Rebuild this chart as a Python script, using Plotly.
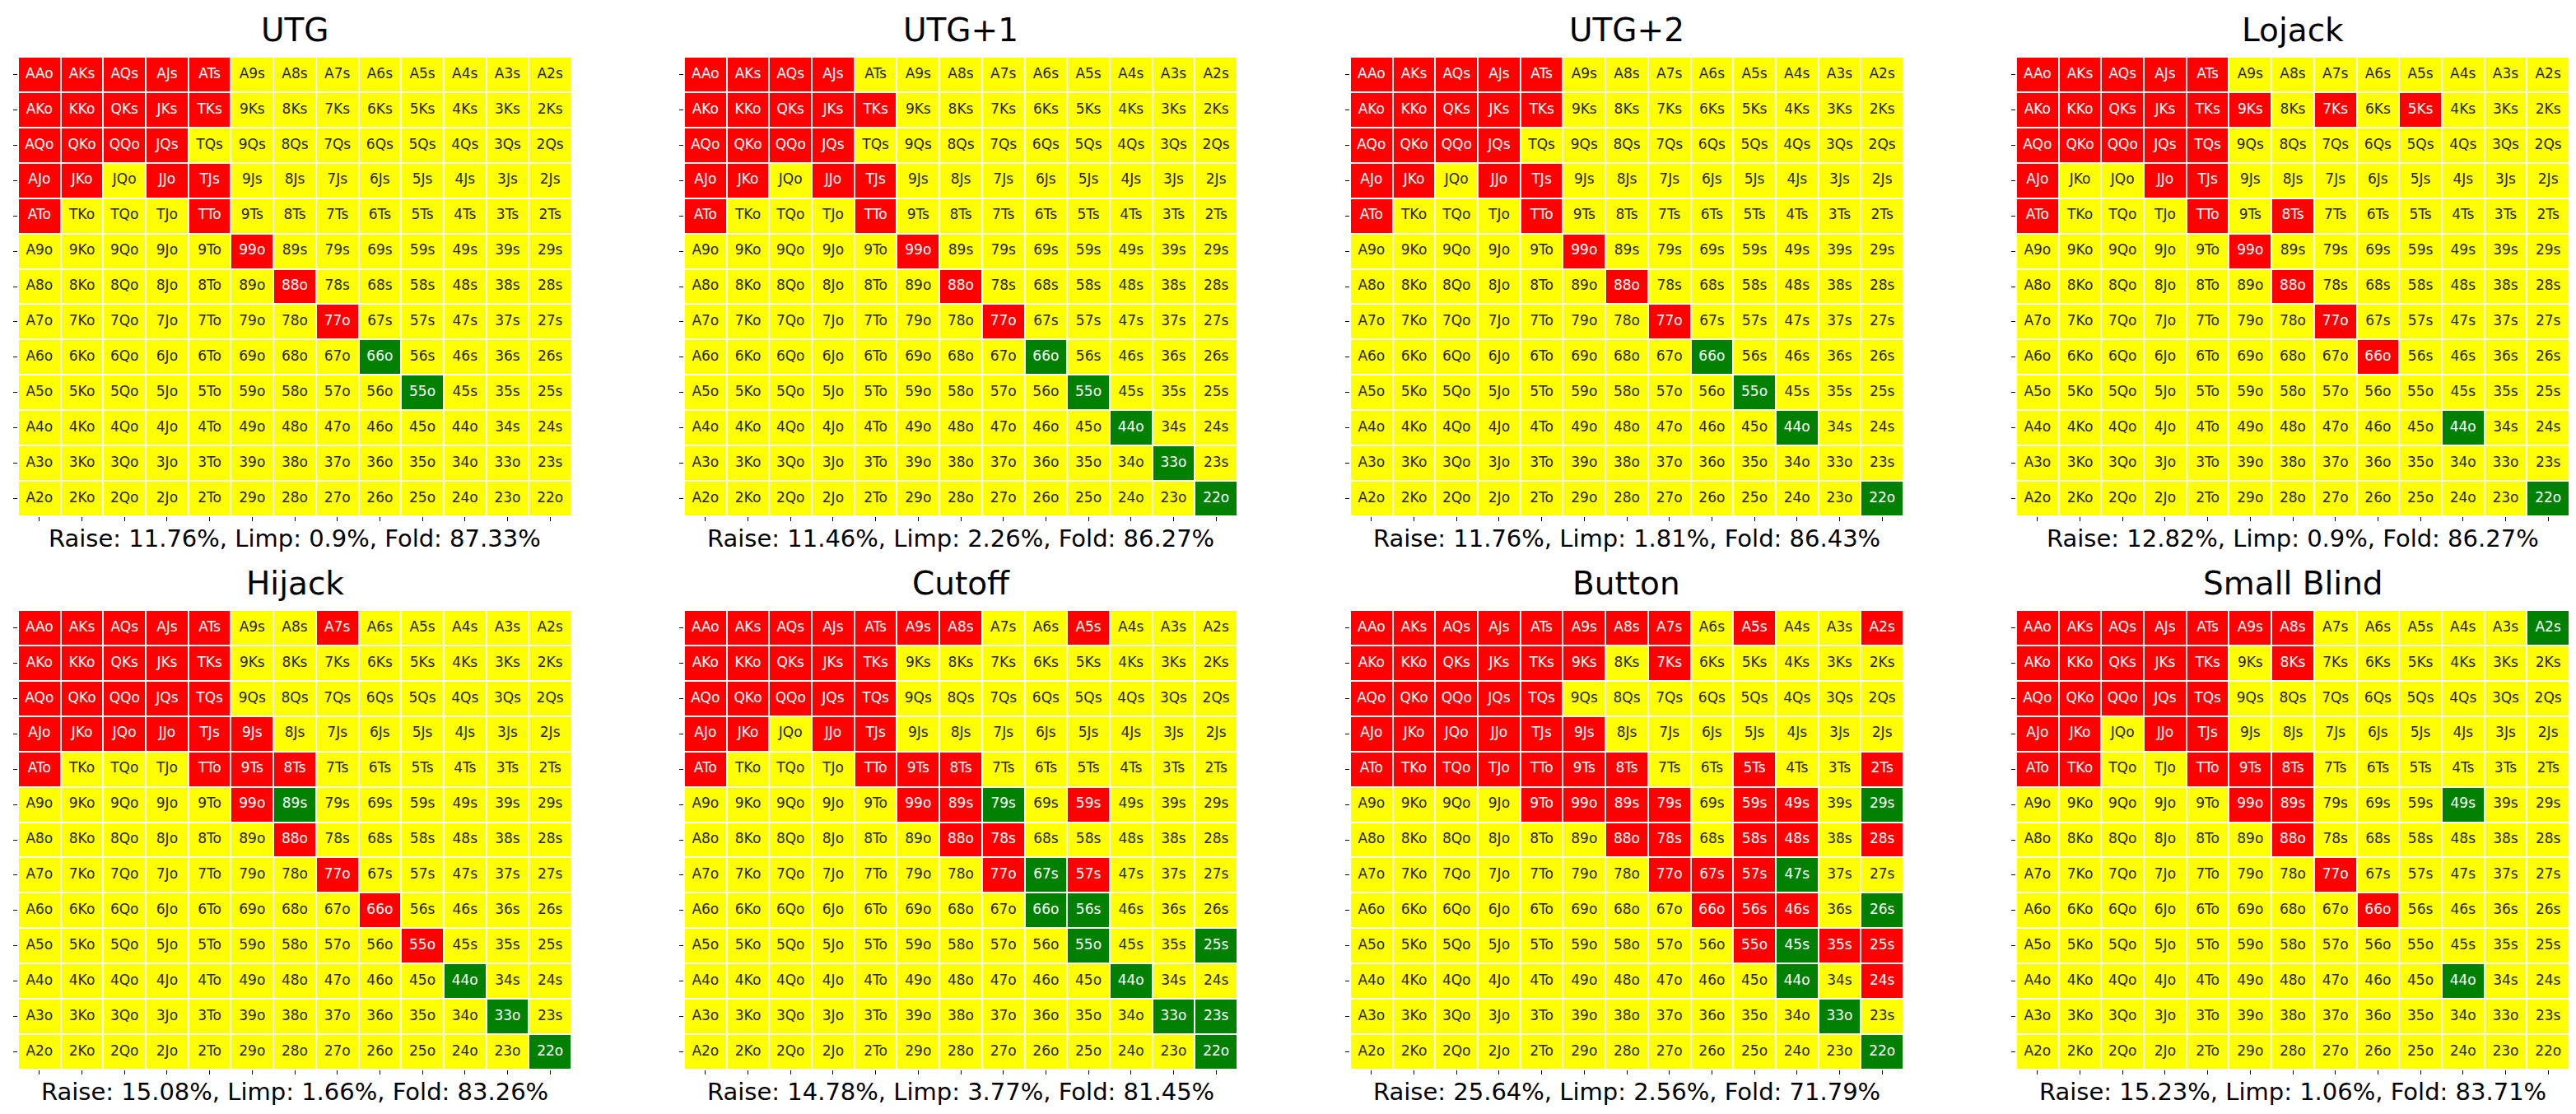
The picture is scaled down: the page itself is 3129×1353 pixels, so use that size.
import plotly.graph_objects as go

# preflop opening ranges, one 13x13 grid per seat
# R = raise, L = limp, . = fold  (rows/cols in rank order A..2)
ranks = ["A", "K", "Q", "J", "T", "9", "8", "7", "6", "5", "4", "3", "2"]
positions = ["UTG", "UTG+1", "UTG+2", "Lojack", "Hijack", "Cutoff", "Button", "Small Blind"]

utg = [
    "RRRRR........",
    "RRRRR........",
    "RRRR.........",
    "RR.RR........",
    "R...R........",
    ".....R.......",
    "......R......",
    ".......R.....",
    "........L....",
    ".........L...",
    ".............",
    ".............",
    ".............",
]
utg1 = [
    "RRRR.........",
    "RRRRR........",
    "RRRR.........",
    "RR.RR........",
    "R...R........",
    ".....R.......",
    "......R......",
    ".......R.....",
    "........L....",
    ".........L...",
    "..........L..",
    "...........L.",
    "............L",
]
utg2 = [
    "RRRRR........",
    "RRRRR........",
    "RRRR.........",
    "RR.RR........",
    "R...R........",
    ".....R.......",
    "......R......",
    ".......R.....",
    "........L....",
    ".........L...",
    "..........L..",
    ".............",
    "............L",
]
lojack = [
    "RRRRR........",
    "RRRRRR.R.R...",
    "RRRRR........",
    "R..RR........",
    "R...R.R......",
    ".....R.......",
    "......R......",
    ".......R.....",
    "........R....",
    ".............",
    "..........L..",
    ".............",
    "............L",
]
hijack = [
    "RRRRR..R.....",
    "RRRRR........",
    "RRRRR........",
    "RRRRRR.......",
    "R...RRR......",
    ".....RL......",
    "......R......",
    ".......R.....",
    "........R....",
    ".........R...",
    "..........L..",
    "...........L.",
    "............L",
]
cutoff = [
    "RRRRRRR..R...",
    "RRRRR........",
    "RRRRR........",
    "RR.RR........",
    "R...RRR......",
    ".....RRL.R...",
    "......RR.....",
    ".......RLR...",
    "........LL...",
    ".........L..L",
    "..........L..",
    "...........LL",
    "............L",
]
button = [
    "RRRRRRRR.R..R",
    "RRRRRR.R.....",
    "RRRRR........",
    "RRRRRR.......",
    "RRRRRRR..R..R",
    "....RRRR.RR.L",
    "......RR.RR.R",
    ".......RRRL..",
    "........RRR.L",
    ".........RLRR",
    "..........L.R",
    "...........L.",
    "............L",
]
small_blind = [
    "RRRRRRR.....L",
    "RRRRR.R......",
    "RRRRR........",
    "RR.RR........",
    "RR..RRR......",
    ".....RR...L..",
    "......R......",
    ".......R.....",
    "........R....",
    ".............",
    "..........L..",
    ".............",
    ".............",
]
grids = [utg, utg1, utg2, lojack, hijack, cutoff, button, small_blind]

W, H = 3129, 1353
col_left = [14, 823, 1632, 2441]
row_top = [61, 733]
panel_w, panel_h = 672, 558

codes = {".": 0, "R": 1, "L": 2}
scale = [[0, "#ffff00"], [1 / 3, "#ffff00"], [1 / 3, "#ff0000"],
         [2 / 3, "#ff0000"], [2 / 3, "#008000"], [1, "#008000"]]
font = "DejaVu Sans"


def hand_label(i, j):
    if i == j:
        return ranks[i] + ranks[i] + "o"
    hi, lo = ranks[min(i, j)], ranks[max(i, j)]
    suit = "s" if i < j else "o"
    if hi == "A":
        return "A" + lo + suit
    return lo + hi + suit


def summary(grid):
    counts = {".": 0, "R": 0, "L": 0}
    for i, row in enumerate(grid):
        for j, ch in enumerate(row):
            n = 6 if i == j else (4 if i < j else 12)
            counts[ch] += n
    pct = lambda n: round(n / 1326 * 100, 2)
    return f"Raise: {pct(counts['R'])}%, Limp: {pct(counts['L'])}%, Fold: {pct(counts['.'])}%"


fig = go.Figure()
annotations = []

for k, (name, grid) in enumerate(zip(positions, grids)):
    r, c = divmod(k, 4)
    ax = "" if k == 0 else str(k + 1)
    z = [[codes[ch] for ch in row] for row in grid]

    xs, ys, labels, colors = [], [], [], []
    for i in range(13):
        for j in range(13):
            xs.append(j)
            ys.append(i)
            labels.append(hand_label(i, j))
            colors.append("#262626" if z[i][j] == 0 else "white")

    fig.add_trace(go.Heatmap(
        z=z, x=list(range(13)), y=list(range(13)),
        colorscale=scale, zmin=0, zmax=2, showscale=False,
        xgap=2, ygap=2, hoverinfo="skip",
        xaxis="x" + ax, yaxis="y" + ax))
    fig.add_trace(go.Scatter(
        x=xs, y=ys, mode="text", text=labels,
        textfont=dict(color=colors, size=17, family=font),
        hoverinfo="skip", showlegend=False,
        xaxis="x" + ax, yaxis="y" + ax))

    x0 = col_left[c] / W
    x1 = (col_left[c] + panel_w) / W
    y1 = 1 - row_top[r] / H
    y0 = 1 - (row_top[r] + panel_h) / H
    common = dict(tickvals=list(range(13)), ticks="outside", ticklen=5, tickwidth=1,
                  tickcolor="black", showticklabels=False, showgrid=False,
                  zeroline=False, showline=False)
    fig.layout["xaxis" + ax] = dict(domain=[x0, x1], range=[-0.5, 12.5],
                                    anchor="y" + ax, **common)
    fig.layout["yaxis" + ax] = dict(domain=[y0, y1], range=[12.5, -0.5],
                                    anchor="x" + ax, **common)

    xc = (x0 + x1) / 2
    annotations.append(dict(text=name, x=xc, y=1 - (row_top[r] - 33) / H,
                            xref="paper", yref="paper", showarrow=False,
                            xanchor="center", yanchor="middle",
                            font=dict(size=39, family=font, color="black")))
    annotations.append(dict(text=summary(grid), x=xc,
                            y=1 - (row_top[r] + panel_h + 27) / H,
                            xref="paper", yref="paper", showarrow=False,
                            xanchor="center", yanchor="middle",
                            font=dict(size=29, family=font, color="black")))

fig.update_layout(
    width=W, height=H,
    margin=dict(l=0, r=0, t=0, b=0),
    paper_bgcolor="white", plot_bgcolor="white",
    annotations=annotations,
)

fig.write_html("out.html")
